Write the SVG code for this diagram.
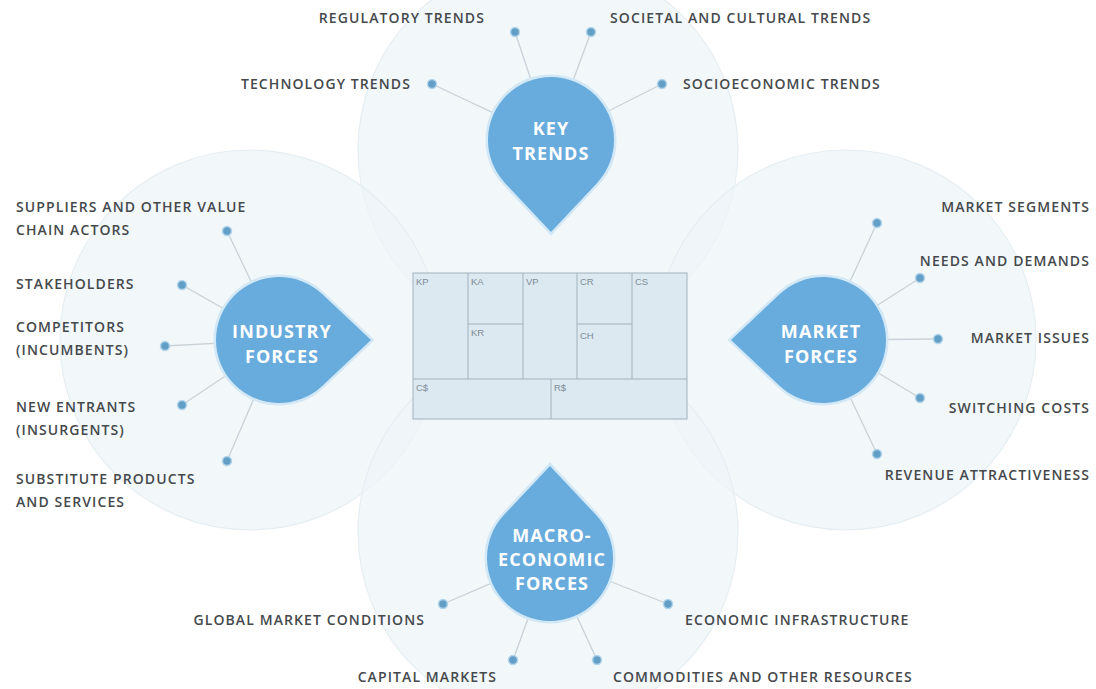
<svg xmlns="http://www.w3.org/2000/svg" xmlns:xlink="http://www.w3.org/1999/xlink" width="1096" height="689" viewBox="0 0 1096 689">
  <style>
    .halo { fill: #eef4f8; fill-opacity: 0.75; stroke: #e6eef3; stroke-width: 1.2; }
    .label { font-family: "Open Sans", "Liberation Sans", sans-serif; font-weight: 600; font-size: 14px; letter-spacing: 1.1px; fill: #45494c; }
    .title { font-family: "Open Sans", "Liberation Sans", sans-serif; font-weight: 700; font-size: 18px; letter-spacing: 1.1px; fill: #ffffff; text-anchor: middle; }
    .drop { fill: #68abdd; stroke: #d2e8f6; stroke-width: 5; paint-order: stroke; }
    .link { stroke: #c9d2d8; stroke-width: 1.3; fill: none; }
    .dot { fill: #629fc6; stroke: #b4d4ea; stroke-width: 1.5; }
    .cell { fill: none; stroke: #a2b1bb; stroke-width: 1; }
    .cell-label { font-family: "Liberation Sans", sans-serif; font-size: 9.5px; fill: #7f8c96; }
    .end { text-anchor: end; }
  </style>
  <defs>
    <!-- teardrop: circle r=63 centred at origin, tip pointing down at (0,92) -->
    <path id="drop" class="drop" d="M0,92 L45.9,43.15 A63,63 0 1 0 -45.9,43.15 Z"/>
  </defs>

  <rect width="1096" height="689" fill="#ffffff"/>

  <!-- soft background discs behind each force group -->
  <g id="backdrop">
    <circle class="halo" cx="548" cy="150" r="190"/>
    <circle class="halo" cx="250" cy="340" r="190"/>
    <circle class="halo" cx="846" cy="340" r="190"/>
    <circle class="halo" cx="548" cy="532" r="190"/>
  </g>

  <!-- business model canvas in the centre -->
  <g id="canvas">
    <rect x="413" y="273" width="274" height="146" fill="#dce9f1" stroke="#a2b1bb" stroke-width="1"/>
    <path class="cell" d="M468,273 V379 M523,273 V379 M577,273 V379 M632,273 V379 M413,379 H687 M468,324 H523 M577,324 H632 M551,379 V419"/>
    <text class="cell-label" x="416" y="285">KP</text>
    <text class="cell-label" x="471" y="285">KA</text>
    <text class="cell-label" x="526" y="285">VP</text>
    <text class="cell-label" x="580" y="285">CR</text>
    <text class="cell-label" x="635" y="285">CS</text>
    <text class="cell-label" x="471" y="336">KR</text>
    <text class="cell-label" x="580" y="339">CH</text>
    <text class="cell-label" x="416" y="391">C$</text>
    <text class="cell-label" x="554" y="391">R$</text>
  </g>

  <!-- connectors from each factor to its force -->
  <g id="connectors">
    <line class="link" x1="515" y1="32" x2="551" y2="140"/>
    <line class="link" x1="591" y1="32" x2="551" y2="140"/>
    <line class="link" x1="432" y1="84" x2="551" y2="140"/>
    <line class="link" x1="662" y1="84" x2="551" y2="140"/>

    <line class="link" x1="227" y1="231" x2="279" y2="340"/>
    <line class="link" x1="182" y1="285" x2="279" y2="340"/>
    <line class="link" x1="165" y1="346" x2="279" y2="340"/>
    <line class="link" x1="182" y1="405" x2="279" y2="340"/>
    <line class="link" x1="227" y1="461" x2="279" y2="340"/>

    <line class="link" x1="877" y1="223" x2="823" y2="340"/>
    <line class="link" x1="920" y1="278" x2="823" y2="340"/>
    <line class="link" x1="938" y1="339" x2="823" y2="340"/>
    <line class="link" x1="920" y1="398" x2="823" y2="340"/>
    <line class="link" x1="877" y1="454" x2="823" y2="340"/>

    <line class="link" x1="443" y1="604" x2="550" y2="558"/>
    <line class="link" x1="668" y1="604" x2="550" y2="558"/>
    <line class="link" x1="513" y1="660" x2="550" y2="558"/>
    <line class="link" x1="597" y1="660" x2="550" y2="558"/>

    <circle class="dot" cx="515" cy="32" r="4.5"/>
    <circle class="dot" cx="591" cy="32" r="4.5"/>
    <circle class="dot" cx="432" cy="84" r="4.5"/>
    <circle class="dot" cx="662" cy="84" r="4.5"/>
    <circle class="dot" cx="227" cy="231" r="4.5"/>
    <circle class="dot" cx="182" cy="285" r="4.5"/>
    <circle class="dot" cx="165" cy="346" r="4.5"/>
    <circle class="dot" cx="182" cy="405" r="4.5"/>
    <circle class="dot" cx="227" cy="461" r="4.5"/>
    <circle class="dot" cx="877" cy="223" r="4.5"/>
    <circle class="dot" cx="920" cy="278" r="4.5"/>
    <circle class="dot" cx="938" cy="339" r="4.5"/>
    <circle class="dot" cx="920" cy="398" r="4.5"/>
    <circle class="dot" cx="877" cy="454" r="4.5"/>
    <circle class="dot" cx="443" cy="604" r="4.5"/>
    <circle class="dot" cx="668" cy="604" r="4.5"/>
    <circle class="dot" cx="513" cy="660" r="4.5"/>
    <circle class="dot" cx="597" cy="660" r="4.5"/>
  </g>

  <!-- Key trends -->
  <g id="key-trends">
    <use xlink:href="#drop" href="#drop" transform="translate(551,140)"/>
    <text class="title" x="551" y="135">KEY</text>
    <text class="title" x="551" y="160">TRENDS</text>
    <text class="label end" x="485" y="23">REGULATORY TRENDS</text>
    <text class="label" x="610" y="23">SOCIETAL AND CULTURAL TRENDS</text>
    <text class="label end" x="411" y="89">TECHNOLOGY TRENDS</text>
    <text class="label" x="683" y="89">SOCIOECONOMIC TRENDS</text>
  </g>

  <!-- Industry forces -->
  <g id="industry-forces">
    <use xlink:href="#drop" href="#drop" transform="translate(279,340) rotate(-90)"/>
    <text class="title" x="282" y="338">INDUSTRY</text>
    <text class="title" x="282" y="363">FORCES</text>
    <text class="label" x="16" y="212">SUPPLIERS AND OTHER VALUE</text>
    <text class="label" x="16" y="235">CHAIN ACTORS</text>
    <text class="label" x="16" y="289">STAKEHOLDERS</text>
    <text class="label" x="16" y="332">COMPETITORS</text>
    <text class="label" x="16" y="355">(INCUMBENTS)</text>
    <text class="label" x="16" y="412">NEW ENTRANTS</text>
    <text class="label" x="16" y="435">(INSURGENTS)</text>
    <text class="label" x="16" y="484">SUBSTITUTE PRODUCTS</text>
    <text class="label" x="16" y="507">AND SERVICES</text>
  </g>

  <!-- Market forces -->
  <g id="market-forces">
    <use xlink:href="#drop" href="#drop" transform="translate(823,340) rotate(90)"/>
    <text class="title" x="821" y="338">MARKET</text>
    <text class="title" x="821" y="363">FORCES</text>
    <text class="label end" x="1090" y="212">MARKET SEGMENTS</text>
    <text class="label end" x="1090" y="266">NEEDS AND DEMANDS</text>
    <text class="label end" x="1090" y="343">MARKET ISSUES</text>
    <text class="label end" x="1090" y="413">SWITCHING COSTS</text>
    <text class="label end" x="1090" y="480">REVENUE ATTRACTIVENESS</text>
  </g>

  <!-- Macro-economic forces -->
  <g id="macroeconomic-forces">
    <use xlink:href="#drop" href="#drop" transform="translate(550,558) rotate(180)"/>
    <text class="title" x="552" y="542">MACRO-</text>
    <text class="title" x="552" y="566">ECONOMIC</text>
    <text class="title" x="552" y="590">FORCES</text>
    <text class="label end" x="425" y="625">GLOBAL MARKET CONDITIONS</text>
    <text class="label" x="685" y="625">ECONOMIC INFRASTRUCTURE</text>
    <text class="label end" x="497" y="682">CAPITAL MARKETS</text>
    <text class="label" x="613" y="682">COMMODITIES AND OTHER RESOURCES</text>
  </g>
</svg>
